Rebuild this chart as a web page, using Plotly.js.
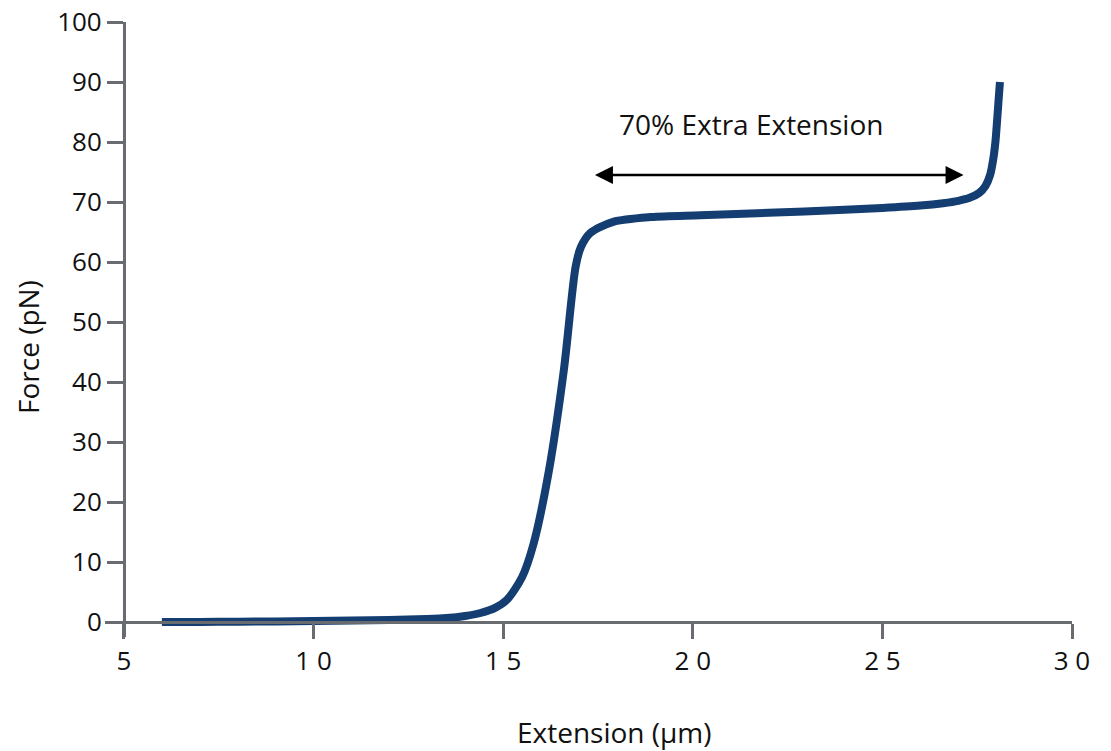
<!DOCTYPE html>
<html>
<head>
<meta charset="utf-8">
<script src="https://cdn.plot.ly/plotly-3.0.1.min.js"></script>
<style>html,body{margin:0;padding:0;background:#fff;}#chart{width:1111px;height:751px;}</style>
</head>
<body>
<div id="chart"></div>
<script>
// Data
const extension = [6.0, 7.0, 8.0, 9.0, 10.0, 11.0, 12.0, 13.0, 13.5, 14.0, 14.4, 14.8, 15.1, 15.5, 15.8, 16.2, 16.6, 16.91, 17.05, 17.29, 17.9, 18.9, 20.2, 22.0, 24.0, 25.0, 26.0, 26.6, 27.0, 27.3, 27.55, 27.72, 27.84, 27.92, 27.98, 28.03, 28.07, 28.1];
const force     = [0.0, 0.0, 0.05, 0.1, 0.15, 0.25, 0.35, 0.5, 0.65, 1.0, 1.5, 2.4, 3.7, 7.5, 13.0, 25.0, 42.0, 59.2, 62.5, 64.8, 66.7, 67.5, 67.8, 68.2, 68.7, 69.0, 69.4, 69.8, 70.2, 70.7, 71.5, 72.7, 74.5, 77.0, 80.0, 84.0, 87.5, 90.0];
const xTickVals  = [5, 10, 15, 20, 25, 30];
const xTickText  = ["5", "1 0", "1 5", "2 0", "2 5", "3 0"];
const yTickVals  = [0, 10, 20, 30, 40, 50, 60, 70, 80, 90, 100];
const arrowFrom  = 17.42, arrowTo = 27.18, arrowLevel = 74.5;
const arrowLabel = "70% Extra Extension";

const axisColor = '#686c70';
const font = "'Open Sans', 'Noto Sans', sans-serif";

const trace = {
  x: extension, y: force, type: 'scatter', mode: 'lines',
  line: {color: '#143d71', width: 8, shape: 'spline', smoothing: 0.8},
  hoverinfo: 'skip'
};

const xr = [4.5, 30], yr = [-2.5, 100];
const L = 105, R = 39, T = 22, B = 114;
const pw = 1111 - L - R, ph = 751 - T - B;
const layout = {
  width: 1111, height: 751,
  margin: {l: L, r: R, t: T, b: B},
  paper_bgcolor: '#fff', plot_bgcolor: '#fff',
  showlegend: false,
  font: {family: font, color: '#111', size: 26},
  xaxis: {
    range: xr, anchor: 'free', position: (0 - yr[0]) / (yr[1] - yr[0]),
    tickmode: 'array', tickvals: xTickVals, ticktext: xTickText,
    ticks: 'outside', ticklen: 15, tickwidth: 3, tickcolor: axisColor,
    showline: true, linecolor: axisColor, linewidth: 3,
    showgrid: false, zeroline: false,
    tickfont: {family: font, size: 26, color: '#111'}
  },
  yaxis: {
    range: yr, anchor: 'free', position: (5 - xr[0]) / (xr[1] - xr[0]),
    tickmode: 'array', tickvals: yTickVals,
    ticks: 'outside', ticklen: 16, tickwidth: 3, tickcolor: axisColor,
    showline: true, linecolor: axisColor, linewidth: 3,
    showgrid: false, zeroline: false,
    tickfont: {family: font, size: 26, color: '#111'}
  },
  annotations: [
    {x: arrowFrom, y: arrowLevel, ax: arrowTo, ay: arrowLevel, xref: 'x', yref: 'y', axref: 'x', ayref: 'y',
     text: '', showarrow: true, arrowhead: 2, arrowside: 'end+start', arrowsize: 1.5, arrowwidth: 2.4, arrowcolor: '#000'},
    {x: 21.53, y: 83, xref: 'x', yref: 'y', text: arrowLabel, showarrow: false,
     xanchor: 'center', yanchor: 'middle',
     font: {family: font, size: 28, color: '#111'}},
    {x: (614 - L) / pw, y: 1 - (732 - T) / ph, xref: 'paper', yref: 'paper', text: 'Extension (µm)', showarrow: false,
     xanchor: 'center', yanchor: 'middle',
     font: {family: font, size: 28, color: '#111'}},
    {x: (28 - L) / pw, y: 1 - (347 - T) / ph, xref: 'paper', yref: 'paper', text: 'Force (pN)', showarrow: false, textangle: -90,
     xanchor: 'center', yanchor: 'middle',
     font: {family: font, size: 28, color: '#111'}}
  ]
};

Plotly.newPlot('chart', [trace], layout, {displayModeBar: false, staticPlot: true});
</script>
</body>
</html>
